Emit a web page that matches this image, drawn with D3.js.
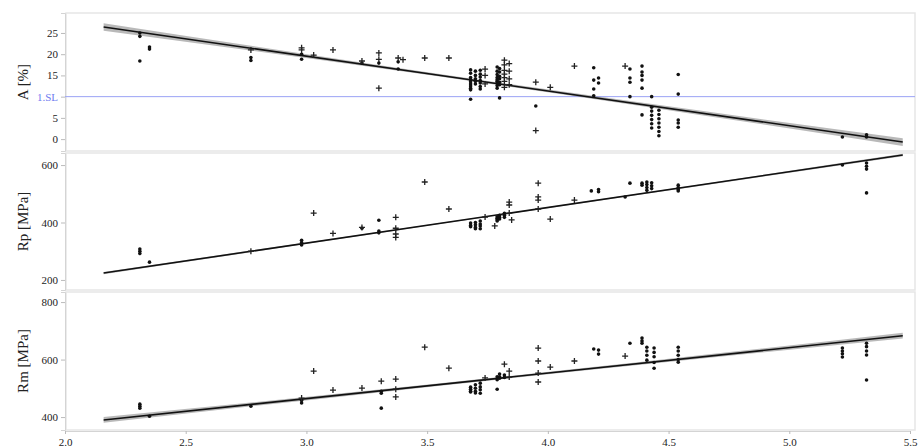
<!DOCTYPE html>
<html>
<head>
<meta charset="utf-8">
<script src="https://cdn.jsdelivr.net/npm/d3@7"></script>
<style>
  body { margin: 0; background: #fff; }
  svg { display: block; }
</style>
</head>
<body>
<div id="chart"></div>
<script>
// x ticks (shared)
const xTicks = [2.0, 2.5, 3.0, 3.5, 4.0, 4.5, 5.0, 5.5];

// A [%] points: [x, y, marker] d = dot, p = plus
const pointsA = [
  [2.31, 25, "d"], [2.31, 24.2, "d"], [2.31, 18.4, "d"],
  [2.35, 21.7, "d"], [2.35, 21.2, "d"],
  [2.77, 21, "p"], [2.77, 19.2, "d"], [2.77, 18.5, "d"],
  [2.98, 21.5, "p"], [2.98, 21, "p"], [2.98, 20, "d"], [2.98, 18.8, "d"],
  [3.03, 19.8, "p"], [3.11, 21, "p"],
  [3.23, 18.4, "p"], [3.23, 17.9, "d"],
  [3.30, 20.3, "p"], [3.30, 18.8, "p"], [3.30, 17.9, "d"], [3.30, 12, "p"],
  [3.38, 19.1, "p"], [3.38, 18.2, "d"], [3.38, 16.5, "d"], [3.40, 18.7, "p"],
  [3.49, 19.1, "p"], [3.59, 19.1, "p"],
  [3.68, 16.3, "d"], [3.68, 15.5, "d"], [3.68, 14.5, "d"], [3.68, 14, "d"], [3.68, 13.5, "d"],
  [3.68, 13, "d"], [3.68, 12.5, "d"], [3.68, 12, "d"], [3.68, 11.6, "d"], [3.68, 9.4, "d"],
  [3.70, 16, "d"], [3.70, 15, "d"], [3.70, 14.2, "d"], [3.70, 13.6, "d"], [3.70, 13, "d"],
  [3.72, 16.2, "d"], [3.72, 15.3, "d"], [3.72, 14.6, "d"], [3.72, 13.8, "d"], [3.72, 13.2, "d"],
  [3.72, 12.4, "d"], [3.72, 11.8, "d"],
  [3.74, 16.5, "p"], [3.74, 15, "p"], [3.74, 13, "p"],
  [3.79, 17, "d"], [3.79, 16, "d"], [3.79, 15.2, "d"], [3.79, 14.5, "d"], [3.79, 14, "d"],
  [3.79, 13.6, "d"], [3.79, 13.2, "d"], [3.79, 12.6, "d"], [3.79, 12, "d"],
  [3.80, 16.6, "d"], [3.80, 15.8, "d"], [3.80, 14.8, "d"], [3.80, 14.2, "d"], [3.80, 13.4, "d"],
  [3.80, 12.8, "d"], [3.80, 9.7, "d"],
  [3.82, 18.6, "p"], [3.82, 17.5, "p"], [3.82, 16.2, "p"], [3.82, 15.3, "p"], [3.82, 14.5, "p"],
  [3.82, 13.6, "p"], [3.82, 12.2, "p"],
  [3.84, 17.8, "p"], [3.84, 16, "p"], [3.84, 14.2, "p"], [3.84, 12.8, "p"],
  [3.95, 13.4, "p"], [3.95, 7.8, "d"], [3.95, 2, "p"],
  [4.01, 12.2, "p"], [4.11, 17.2, "p"],
  [4.19, 16.8, "d"], [4.19, 13.9, "d"], [4.19, 11.8, "d"], [4.19, 10.2, "d"],
  [4.21, 14.4, "d"], [4.21, 13.2, "d"],
  [4.32, 17.2, "p"],
  [4.34, 16.5, "d"], [4.34, 14.4, "d"], [4.34, 13.4, "d"], [4.34, 10, "d"],
  [4.39, 17.2, "d"], [4.39, 15.8, "d"], [4.39, 15, "d"], [4.39, 13.9, "d"], [4.39, 12, "d"], [4.39, 5.7, "d"],
  [4.43, 10, "d"], [4.43, 7.5, "d"], [4.43, 6.6, "d"], [4.43, 5.6, "d"], [4.43, 4.6, "d"],
  [4.43, 3.6, "d"], [4.43, 2.6, "d"],
  [4.46, 6.8, "d"], [4.46, 5.8, "d"], [4.46, 4.8, "d"], [4.46, 3.8, "d"], [4.46, 2.8, "d"],
  [4.46, 1.8, "d"], [4.46, 0.8, "d"],
  [4.54, 15.2, "d"], [4.54, 10.6, "d"], [4.54, 4.5, "d"], [4.54, 3.8, "d"], [4.54, 2.8, "d"],
  [5.22, 0.5, "d"], [5.32, 1, "d"], [5.32, 0.5, "d"]
];

// Rp [MPa] points
const pointsRp = [
  [2.31, 308, "d"], [2.31, 300, "d"], [2.31, 292, "d"], [2.35, 262, "d"],
  [2.77, 300, "p"],
  [2.98, 338, "d"], [2.98, 330, "d"], [2.98, 322, "d"],
  [3.03, 433, "p"], [3.11, 362, "p"], [3.23, 383, "p"], [3.23, 380, "d"],
  [3.30, 408, "d"], [3.30, 370, "d"], [3.30, 364, "d"],
  [3.37, 418, "p"], [3.37, 380, "p"], [3.37, 360, "p"], [3.37, 348, "p"],
  [3.49, 541, "p"], [3.59, 447, "p"],
  [3.68, 398, "d"], [3.68, 390, "d"], [3.68, 385, "d"],
  [3.70, 400, "d"], [3.70, 392, "d"], [3.70, 383, "d"], [3.70, 378, "d"],
  [3.72, 405, "d"], [3.72, 395, "d"], [3.72, 388, "d"], [3.72, 378, "d"],
  [3.74, 419, "p"],
  [3.79, 420, "d"], [3.79, 415, "d"], [3.79, 410, "d"], [3.79, 405, "d"], [3.78, 388, "p"],
  [3.80, 425, "d"], [3.80, 418, "d"], [3.80, 412, "d"],
  [3.82, 432, "d"], [3.82, 425, "d"], [3.82, 418, "d"],
  [3.84, 471, "p"], [3.84, 461, "p"], [3.84, 433, "p"], [3.85, 409, "p"],
  [3.96, 537, "p"], [3.96, 489, "p"], [3.96, 478, "p"], [3.96, 447, "p"],
  [4.01, 412, "p"], [4.11, 478, "p"],
  [4.18, 510, "d"], [4.21, 507, "d"], [4.21, 515, "d"],
  [4.32, 489, "d"], [4.34, 537, "d"],
  [4.39, 537, "d"], [4.39, 530, "d"],
  [4.41, 541, "d"], [4.41, 532, "d"], [4.41, 522, "d"], [4.41, 512, "d"],
  [4.43, 538, "d"], [4.43, 528, "d"], [4.43, 518, "d"],
  [4.54, 530, "d"], [4.54, 522, "d"], [4.54, 515, "d"], [4.54, 510, "d"],
  [5.22, 600, "d"],
  [5.32, 607, "d"], [5.32, 596, "d"], [5.32, 586, "d"], [5.32, 503, "d"]
];

// Rm [MPa] points
const pointsRm = [
  [2.31, 445, "d"], [2.31, 438, "d"], [2.31, 431, "d"], [2.35, 403, "d"],
  [2.77, 438, "d"],
  [2.98, 466, "p"], [2.98, 458, "d"], [2.98, 449, "d"],
  [3.03, 560, "p"], [3.11, 494, "p"], [3.23, 501, "p"],
  [3.31, 525, "p"], [3.31, 490, "d"], [3.31, 483, "d"], [3.31, 431, "d"],
  [3.37, 532, "p"], [3.37, 497, "p"], [3.37, 470, "p"],
  [3.49, 643, "p"], [3.59, 570, "p"],
  [3.68, 504, "d"], [3.68, 497, "d"], [3.68, 490, "d"], [3.68, 487, "d"],
  [3.70, 512, "d"], [3.70, 500, "d"], [3.70, 490, "d"], [3.70, 484, "d"],
  [3.72, 518, "d"], [3.72, 505, "d"], [3.72, 495, "d"], [3.72, 483, "d"],
  [3.74, 536, "p"],
  [3.79, 497, "d"], [3.79, 540, "d"], [3.79, 530, "d"],
  [3.80, 550, "d"], [3.80, 540, "d"], [3.80, 535, "d"],
  [3.82, 546, "d"], [3.82, 538, "d"], [3.82, 584, "p"],
  [3.84, 539, "p"], [3.84, 560, "p"],
  [3.96, 640, "p"], [3.96, 595, "p"], [3.96, 553, "p"], [3.96, 522, "p"],
  [4.01, 574, "p"], [4.11, 595, "p"],
  [4.19, 637, "d"], [4.21, 633, "d"], [4.21, 619, "d"],
  [4.32, 612, "p"], [4.34, 657, "d"],
  [4.39, 675, "d"], [4.39, 665, "d"], [4.39, 657, "d"],
  [4.41, 643, "d"], [4.41, 630, "d"], [4.41, 615, "d"], [4.41, 598, "d"],
  [4.44, 640, "d"], [4.44, 625, "d"], [4.44, 610, "d"], [4.44, 590, "d"], [4.44, 570, "d"],
  [4.54, 643, "d"], [4.54, 630, "d"], [4.54, 615, "d"], [4.54, 600, "d"], [4.54, 591, "d"],
  [5.22, 640, "d"], [5.22, 630, "d"], [5.22, 620, "d"], [5.22, 609, "d"],
  [5.32, 657, "d"], [5.32, 645, "d"], [5.32, 630, "d"], [5.32, 616, "d"], [5.32, 529, "d"]
];

// fit lines: [x, y, half width of confidence band]
const fitA = [[2.16, 26.4, 0.9], [3.8, 13.0, 0.3], [5.47, -0.7, 0.9]];
const fitRp = [[2.16, 224, 4], [3.8, 427, 2], [5.47, 635, 4]];
const fitRm = [[2.16, 390, 10], [3.8, 535, 4], [5.47, 683, 10]];

// y axis ticks
const ticksA = [0, 5, 10, 15, 20, 25];
const ticksRp = [200, 400, 600];
const ticksRm = [400, 600, 800];
const limitA = 10; // 1.SL line

const width = 920, height = 448;
const left = 65, right = 910;

const svg = d3.select("#chart").append("svg")
    .attr("width", width)
    .attr("height", height);

const x = d3.scaleLinear().domain([2.0, 5.5]).range([left, right]);

const panels = [
  { label: "A [%]", top: 13, bottom: 151, domain: [-2.8, 29.7], ticks: ticksA, points: pointsA, fit: fitA },
  { label: "Rp [MPa]", top: 153, bottom: 290, domain: [165, 642], ticks: ticksRp, points: pointsRp, fit: fitRp },
  { label: "Rm [MPa]", top: 292, bottom: 430, domain: [355, 835], ticks: ticksRm, points: pointsRm, fit: fitRm }
];

const serif = "'Liberation Serif', 'DejaVu Serif', serif";

panels.forEach((p, i) => {
  const y = d3.scaleLinear().domain(p.domain).range([p.bottom, p.top]);
  const g = svg.append("g");

  // 面板边框
  g.append("rect")
    .attr("x", left + 1).attr("y", p.top)
    .attr("width", 915 - left - 1).attr("height", p.bottom - p.top)
    .attr("fill", "none").attr("stroke", "#e6e6e6").attr("stroke-width", 1.5);

  // y 轴
  const axis = g.append("g")
    .attr("transform", `translate(${left},0)`)
    .call(d3.axisLeft(y).tickValues(p.ticks).tickSize(4).tickPadding(3)
      .tickFormat(d => (i === 0 && d === limitA) ? "1.SL" : d));
  axis.select(".domain").attr("stroke", "#d4d4d4");
  axis.selectAll(".tick line").attr("stroke", "#bbb");
  axis.selectAll(".tick text")
    .attr("font-family", serif).attr("font-size", 11)
    .attr("fill", d => (i === 0 && d === limitA) ? "#6f7cf0" : "#222");

  if (i === 0) {
    g.append("line")
      .attr("x1", left).attr("x2", 915)
      .attr("y1", y(limitA)).attr("y2", y(limitA))
      .attr("stroke", "#9aa2f5").attr("stroke-width", 1);
  }

  // y 轴标题
  g.append("text")
    .attr("transform", `translate(25,${(p.top + p.bottom) / 2}) rotate(-90)`)
    .attr("text-anchor", "middle")
    .attr("dominant-baseline", "middle")
    .attr("font-family", serif).attr("font-size", 15)
    .attr("fill", "#222")
    .text(p.label);

  // 置信带
  const band = d3.area()
    .x(d => x(d[0]))
    .y0(d => y(d[1] - d[2]))
    .y1(d => y(d[1] + d[2]))
    .curve(d3.curveNatural);
  g.append("path").datum(p.fit)
    .attr("d", band)
    .attr("fill", "#8a8a8a").attr("fill-opacity", 0.6);

  const line = d3.line().x(d => x(d[0])).y(d => y(d[1]));
  g.append("path").datum([p.fit[0], p.fit[2]])
    .attr("d", line)
    .attr("fill", "none").attr("stroke", "#111").attr("stroke-width", 1.6);

  // 数据点
  g.selectAll("circle")
    .data(p.points.filter(d => d[2] === "d"))
    .enter().append("circle")
    .attr("cx", d => x(d[0]))
    .attr("cy", d => y(d[1]))
    .attr("r", 1.8)
    .attr("fill", "#111");

  g.selectAll("path.plus")
    .data(p.points.filter(d => d[2] === "p"))
    .enter().append("path")
    .attr("class", "plus")
    .attr("d", d => {
      const cx = x(d[0]), cy = y(d[1]);
      return `M${cx - 3},${cy}H${cx + 3}M${cx},${cy - 3}V${cy + 3}`;
    })
    .attr("stroke", "#222").attr("stroke-width", 1.3);
});

// x 轴
const xAxis = svg.append("g")
  .attr("transform", "translate(0,431)")
  .call(d3.axisBottom(x).tickValues(xTicks).tickSize(3).tickPadding(4)
    .tickFormat(d3.format(".1f")));
xAxis.select(".domain").attr("stroke", "#d4d4d4");
xAxis.selectAll(".tick line").attr("stroke", "#bbb");
xAxis.selectAll(".tick text")
  .attr("font-family", serif).attr("font-size", 11).attr("fill", "#222");
</script>
</body>
</html>
